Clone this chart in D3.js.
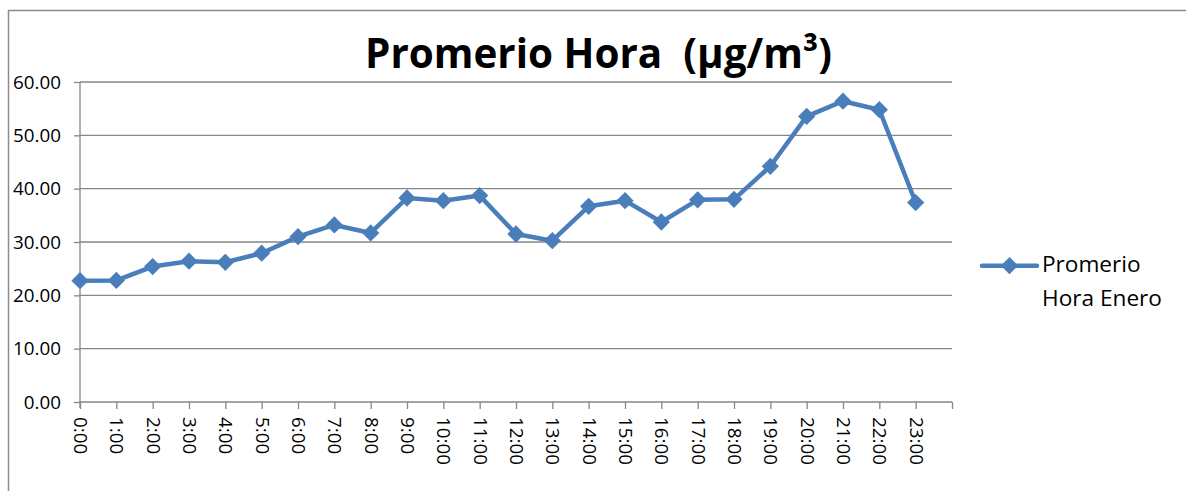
<!DOCTYPE html>
<html>
<head>
<meta charset="utf-8">
<script src="https://cdn.jsdelivr.net/npm/d3@7"></script>
<style>
  html, body { margin: 0; padding: 0; background: #fff; }
  svg { display: block; }
  text { font-family: "Open Sans", "Noto Sans", sans-serif; fill: #000; }
</style>
</head>
<body>
<svg id="chart" width="1186" height="491"></svg>
<script>
const hours = ["0:00","1:00","2:00","3:00","4:00","5:00","6:00","7:00","8:00","9:00","10:00","11:00",
               "12:00","13:00","14:00","15:00","16:00","17:00","18:00","19:00","20:00","21:00","22:00","23:00"];
const values = [22.75, 22.8, 25.4, 26.4, 26.2, 27.9, 31.0, 33.2, 31.7, 38.25, 37.75, 38.7,
                31.5, 30.25, 36.7, 37.75, 33.75, 37.9, 38.0, 44.2, 53.55, 56.4, 54.8, 37.4];
const yTicks = [0, 10, 20, 30, 40, 50, 60];
const titleText = "Promerio Hora  (µg/m³)";
const seriesName = ["Promerio", "Hora Enero"];

(function () {
const svg = d3.select("#chart");
const pLeft = 80, pRight = 952, pTop = 82, pBottom = 402;
const gridColor = "#868686";
const lineColor = "#4a7ebb";

// outer frame (extends past the window on right and bottom)
svg.append("rect")
  .attr("x", 8.5).attr("y", 10.5).attr("width", 1300).attr("height", 600)
  .attr("fill", "none").attr("stroke", "#8c8c8c").attr("stroke-width", 1.5);

const x = d3.scaleLinear().domain([0, hours.length]).range([pLeft, pRight]);
const y = d3.scaleLinear().domain([0, 60]).range([pBottom, pTop]);

function fitSize(sel, target, base) {
  sel.style("font-size", base + "px");
  const w = sel.node().getComputedTextLength();
  const s = base * target / w;
  sel.style("font-size", s + "px");
  return s;
}

const probe = svg.append("text").text("60.00");
const tickSize = fitSize(probe, 48, 18);
probe.remove();

// gridlines
svg.append("g").selectAll("line").data(yTicks.filter(d => d > 0)).join("line")
  .attr("x1", pLeft).attr("x2", pRight)
  .attr("y1", d => y(d)).attr("y2", d => y(d))
  .attr("stroke", gridColor).attr("stroke-width", 1.3);

// y axis
const yAxis = svg.append("g").attr("transform", `translate(${pLeft},0)`)
  .call(d3.axisLeft(y).tickValues(yTicks).tickFormat(d3.format(".2f")).tickSize(6).tickPadding(13));
yAxis.select(".domain").attr("stroke", gridColor).attr("stroke-width", 1.3)
  .attr("d", `M0,${pTop}V${pBottom + 6}`);
yAxis.selectAll(".tick line").attr("stroke", gridColor).attr("stroke-width", 1.3);
yAxis.selectAll(".tick text").style("font-size", tickSize + "px")
  .style("font-family", '"Open Sans", sans-serif').attr("fill", "#000");

// x axis
const xAxis = svg.append("g").attr("transform", `translate(0,${pBottom})`)
  .call(d3.axisBottom(x).tickValues(d3.range(hours.length + 1)).tickFormat(i => hours[i] || "").tickSize(7));
xAxis.select(".domain").attr("stroke", gridColor).attr("stroke-width", 1.3)
  .attr("d", `M${pLeft},0H${pRight}`);
xAxis.selectAll(".tick line").attr("stroke", gridColor).attr("stroke-width", 1.3);
xAxis.selectAll(".tick text")
  .style("font-size", tickSize + "px").style("font-family", '"Open Sans", sans-serif').attr("fill", "#000")
  .attr("text-anchor", "start")
  .attr("dy", "0.35em")
  .attr("y", 0).attr("x", 0)
  .attr("transform", "translate(0,15) rotate(90)");

// line
const line = d3.line().x((d, i) => x(i)).y(d => y(d));
svg.append("path").datum(values)
  .attr("d", line).attr("fill", "none")
  .attr("stroke", lineColor).attr("stroke-width", 4.5).attr("stroke-linejoin", "round");

// markers
const diamond = d3.symbol().type(d3.symbolDiamond2).size(190);
svg.append("g").selectAll("path").data(values).join("path")
  .attr("d", diamond)
  .attr("transform", (d, i) => `translate(${x(i)},${y(d)})`)
  .attr("fill", lineColor);

// title
const title = svg.append("text").text(titleText)
  .attr("x", 365).attr("y", 68)
  .style("white-space", "pre")
  .style("font-weight", "bold");
fitSize(title, 467, 36);

// legend
const ly = 265.7;
svg.append("line").attr("x1", 982).attr("x2", 1037).attr("y1", ly).attr("y2", ly)
  .attr("stroke", lineColor).attr("stroke-width", 4.5).attr("stroke-linecap", "round");
svg.append("path").attr("d", diamond).attr("transform", `translate(1009.5,${ly})`).attr("fill", lineColor);
const lt = svg.append("text").attr("x", 1042).attr("y", 272);
lt.append("tspan").attr("x", 1042).attr("y", 272).text(seriesName[0]);
lt.append("tspan").attr("x", 1042).attr("y", 306).text(seriesName[1]);
const probe2 = svg.append("text").text(seriesName[1]);
const legSize = fitSize(probe2, 120, 20);
probe2.remove();
lt.style("font-size", legSize + "px");
})();
</script>
</body>
</html>
